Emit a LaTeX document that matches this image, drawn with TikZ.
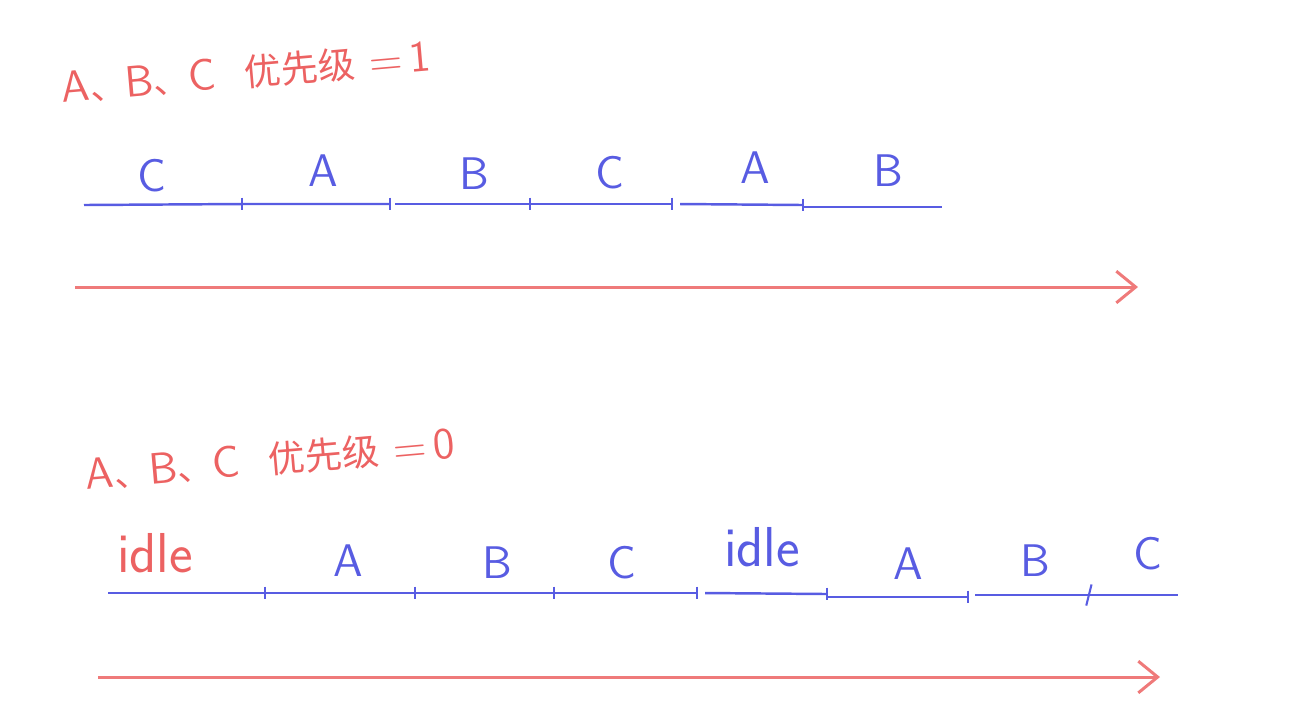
\documentclass[tikz,border=0pt]{standalone}
\usepackage{fontspec}
\newfontfamily\cjk{Noto Sans CJK SC}
\usetikzlibrary{positioning}
\usetikzlibrary{arrows.meta}
\definecolor{penblue}{RGB}{88,92,226}
\definecolor{penred}{RGB}{236,98,98}
\tikzstyle{seg}=[draw=penblue, line width=0.7pt]
\tikzstyle{tick}=[draw=penblue, line width=0.6pt]
\tikzstyle{slot}=[text=penblue, font=\sffamily\fontsize{13}{13}\selectfont, inner sep=0pt]
\tikzstyle{idlelabel}=[font=\sffamily\fontsize{16}{16}\selectfont, inner sep=0pt]
\tikzstyle{title}=[text=penred, font=\sffamily\fontsize{12.5}{12.5}\selectfont, inner sep=0pt, anchor=base west, rotate=5]
\tikzstyle{timeline}=[draw=penred!85, line width=0.85pt, -{Straight Barb[length=5.5pt, width=9pt, line width=0.85pt]}]
\newcommand{\dun}{{\cjk\fontsize{10}{10}\selectfont 、}}

\begin{document}
\begin{tikzpicture}[x=0.01cm, y=-0.01cm]
            \useasboundingbox (0,0) rectangle (1294,717);

            % priority 1
            \node[title] (t1) at (62,103) {A\dun B\dun C\ \ {\cjk\fontsize{10.5}{10.5}\selectfont 优先级}\ =\,1};

            \coordinate (p0) at (84,205);
            \coordinate (p1) at (242,204);
            \coordinate (p2) at (390,204);
            \coordinate (q2) at (395,204);
            \coordinate (p3) at (530,204);
            \coordinate (p4) at (672,204);
            \coordinate (q4) at (680,204);
            \coordinate (p5) at (803,205);
            \coordinate (q5) at (803,207);
            \coordinate (p6) at (942,207);

            \draw[seg] (p0) -- (p1) -- (p2);
            \draw[seg] (q2) -- (p3) -- (p4);
            \draw[seg] (q4) -- (p5);
            \draw[seg] (q5) -- (p6);
            \foreach \p in {p1,p2,p3,p4,p5}
                \draw[tick] ([yshift=1.8pt]\p) -- ([yshift=-1.6pt]\p);

            \node[slot] (c1) at (152,176) {C};
            \node[slot] (a1) at (323,171) {A};
            \node[slot] (b1) at (474,174) {B};
            \node[slot] (c2) at (610,173) {C};
            \node[slot] (a2) at (755,168) {A};
            \node[slot] (b2) at (888,171) {B};

            \coordinate (s1) at (75,287);
            \coordinate (e1) at (1138,287);
            \draw[timeline] (s1) -- (e1);

            % priority 0
            \node[title] (t2) at (86,490) {A\dun B\dun C\ \ {\cjk\fontsize{10.5}{10.5}\selectfont 优先级}\ =\,0};

            \coordinate (r0) at (108,593);
            \coordinate (r1) at (265,593);
            \coordinate (r2) at (415,593);
            \coordinate (r3) at (554,593);
            \coordinate (r4) at (697,593);
            \coordinate (u4) at (705,593);
            \coordinate (r5) at (827,594);
            \coordinate (u5) at (827,597);
            \coordinate (r6) at (968,597);
            \coordinate (u6) at (975,595);
            \coordinate (r7) at (1088,595);
            \coordinate (r8) at (1178,595);

            \draw[seg] (r0) -- (r1) -- (r2) -- (r3) -- (r4);
            \draw[seg] (u4) -- (r5);
            \draw[seg] (u5) -- (r6);
            \draw[seg] (u6) -- (r7) -- (r8);
            \foreach \p in {r1,r2,r3,r4,r5,r6}
                \draw[tick] ([yshift=1.8pt]\p) -- ([yshift=-1.6pt]\p);
            \draw[tick] ([xshift=1pt,yshift=3pt]r7) -- ([xshift=-0.5pt,yshift=-3pt]r7);

            \node[idlelabel, text=penred] (i1) at (155,553) {idle};
            \node[slot] (a3) at (348,561) {A};
            \node[slot] (b3) at (497,563) {B};
            \node[slot] (c3) at (622,563) {C};
            \node[idlelabel, text=penblue] (i2) at (762,547) {idle};
            \node[slot] (a4) at (908,564) {A};
            \node[slot] (b4) at (1035,561) {B};
            \node[slot] (c4) at (1148,554) {C};

            \coordinate (s2) at (98,677);
            \coordinate (e2) at (1160,677);
            \draw[timeline] (s2) -- (e2);
        \end{tikzpicture}
\end{document}
